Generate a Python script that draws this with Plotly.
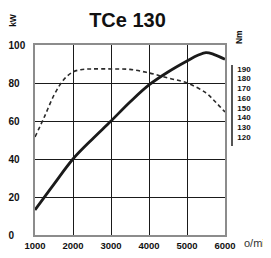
import plotly.graph_objects as go

# Data
rpm_power = [1000, 1500, 2000, 2500, 3000, 3500, 4000, 4500, 5000, 5300, 5500, 5700, 6000]
power_kw = [13.2, 26.8, 40, 50.3, 60, 70, 79, 85.8, 91.6, 94.7, 96, 95.1, 92.5]

rpm_torque = [1000, 1250, 1500, 1750, 2000, 2250, 2500, 3000, 3500, 4000, 4500, 5000, 5500, 5750, 6000]
torque_nm = [120, 141, 163, 178.7, 186.9, 189.5, 190, 190, 189.5, 185.9, 180.7, 175.6, 165.3, 156, 145.7]

x_ticks = [1000, 2000, 3000, 4000, 5000, 6000]
kw_ticks = [0, 20, 40, 60, 80, 100]
nm_ticks = [120, 130, 140, 150, 160, 170, 180, 190]

FS = "\u2007"
kw_ticktext = [str(v) + FS * (3 - len(str(v))) for v in kw_ticks]

FONT = "Liberation Sans, Arial, sans-serif"
W, H = 263, 250  # page body adds an 8px offset

fig = go.Figure()
fig.add_trace(go.Scatter(
    x=rpm_torque, y=torque_nm, yaxis="y2", mode="lines",
    line=dict(color="#2a2a2a", width=1.6, dash="4px,3px", shape="spline"),
    hoverinfo="skip", showlegend=False))
fig.add_trace(go.Scatter(
    x=rpm_power, y=power_kw, mode="lines",
    line=dict(color="#1a1a1a", width=2.8, shape="spline"),
    hoverinfo="skip", showlegend=False))

fig.update_layout(
    width=W, height=H,
    margin=dict(l=27, r=39, t=37, b=23),
    paper_bgcolor="white", plot_bgcolor="rgba(0,0,0,0)",
    font=dict(family=FONT, color="#111"),
    title=dict(text="<b>TCe 130</b>", x=119.5 / W, xref="container", xanchor="center",
               y=1 - 11.5 / H, yref="container", yanchor="middle",
               font=dict(family=FONT, size=20, color="#111")),
    xaxis=dict(range=[1000, 6000], domain=[0, 190 / 197], tickvals=x_ticks,
               showgrid=True, gridcolor="#1a1a1a", gridwidth=1,
               showline=True, linecolor="#8c8c8c", linewidth=1.5, mirror=True,
               zeroline=False, ticks="", ticklen=0, ticklabelstandoff=1, automargin=False,
               tickfont=dict(family=FONT, size=9.5, color="#111", weight="bold")),
    yaxis=dict(range=[0, 100], tickvals=kw_ticks, ticktext=kw_ticktext,
               showgrid=True, gridcolor="#1a1a1a", gridwidth=1,
               showline=True, linecolor="#8c8c8c", linewidth=1.5, mirror=True,
               zeroline=False, ticks="", ticklen=0, ticklabelstandoff=6, automargin=False,
               tickfont=dict(family=FONT, size=10, color="#111", weight="bold")),
    yaxis2=dict(anchor="free", position=1, side="right",
                domain=[0.468, 0.895], range=[110.7, 194.1],
                tickvals=nm_ticks, showgrid=False, zeroline=False,
                showline=True, linecolor="#555", linewidth=1.5,
                ticks="", ticklen=0, ticklabelstandoff=3, automargin=False,
                tickfont=dict(family=FONT, size=8, color="#111", weight="bold")),
    annotations=[
        dict(text="<b>kW</b>", xref="paper", yref="paper", x=-0.112, y=1.132,
             textangle=-90, showarrow=False, xanchor="center", yanchor="middle",
             font=dict(family=FONT, size=8.5, color="#111")),
        dict(text="<b>Nm</b>", xref="paper", yref="paper", x=1.036, y=1.042,
             textangle=-90, showarrow=False, xanchor="center", yanchor="middle",
             font=dict(family=FONT, size=8.5, color="#111")),
        dict(text="o/min", xref="paper", yref="paper", x=(242 - 35) / 197, y=-0.042,
             showarrow=False, xanchor="left", yanchor="middle",
             font=dict(family=FONT, size=11, color="#333")),
    ],
)

fig.write_html("out.html")
